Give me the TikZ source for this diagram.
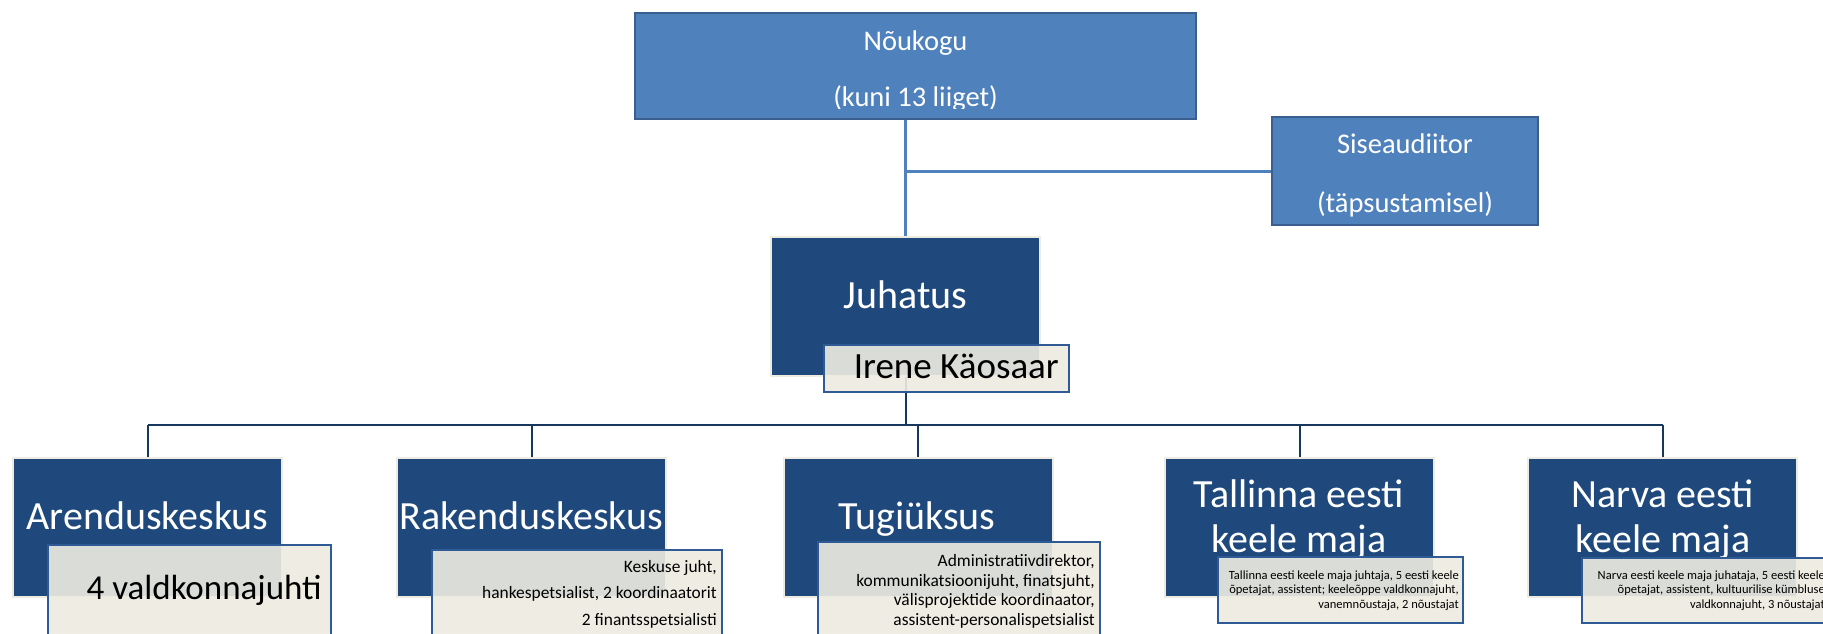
\documentclass[tikz,border=0pt]{standalone}
\usepackage{fontspec}
\setmainfont{Carlito}

\definecolor{boardblue}{HTML}{4F81BD}
\definecolor{boardedge}{HTML}{3A5F8E}
\definecolor{unitblue}{HTML}{1F497D}
\definecolor{cream}{HTML}{EEECE1}
\definecolor{staffedge}{HTML}{2E5A96}
\definecolor{busline}{HTML}{17375E}

\tikzstyle{board}=[draw=boardedge, fill=boardblue, line width=2pt, inner sep=0pt]
\tikzstyle{unit}=[draw=cream, fill=unitblue, line width=2pt, inner sep=0pt,
  minimum width=269pt, minimum height=139pt]
\tikzstyle{staff}=[draw=staffedge, fill=cream, fill opacity=0.9, line width=2pt, inner sep=0pt]
\tikzstyle{title}=[text=white, inner sep=0pt, anchor=base, align=center]
\tikzstyle{names}=[text=black, inner sep=0pt, anchor=base east, align=right]
\tikzstyle{upline}=[draw=boardblue, line width=3pt]
\tikzstyle{downline}=[draw=busline, line width=2pt]

\begin{document}
\begin{tikzpicture}[x=1pt, y=-1pt]
\useasboundingbox (0,0) rectangle (1823,633);
\clip (0,0) rectangle (1823,633);
\fill[white] (0,0) rectangle (1823,633);
%
\draw (915.5,66) node[board, minimum width=561pt, minimum height=106pt] (noukogu) {};
\draw (1405,171) node[board, minimum width=266pt, minimum height=108pt] (audit) {};
\draw (905.5,306.5) node[unit] (juhatus) {};
\draw (147.5,527.5) node[unit] (arendus) {};
\draw (531.5,527.5) node[unit] (rakendus) {};
\draw (918,527.5) node[unit] (tugi) {};
\draw (1299.5,527.5) node[unit] (tallinn) {};
\draw (1662.5,527.5) node[unit] (narva) {};
% titles (base = last line)
\begin{scope}
  \clip (635,13) rectangle (1196,108);
  \draw (915.5,106) node[title, font=\fontsize{28.5}{56}\selectfont] (noukoguT)
    {Nõukogu\\(kuni 13 liiget)};
\end{scope}
\draw (1405,212) node[title, font=\fontsize{28.5}{59}\selectfont] (auditT)
  {Siseaudiitor\\(täpsustamisel)};
\draw (905.5,308) node[title, font=\fontsize{40}{48}\selectfont] (juhatusT) {Juhatus};
\draw (147.5,529) node[title, font=\fontsize{40}{45}\selectfont] (arendusT) {Arenduskeskus};
\draw (531.5,529) node[title, font=\fontsize{40}{45}\selectfont] (rakendusT) {Rakenduskeskus};
\draw (917,529) node[title, font=\fontsize{40}{45}\selectfont] (tugiT) {Tugiüksus};
\draw (1299,552) node[title, font=\fontsize{40}{45}\selectfont] (tallinnT)
  {Tallinna eesti\\keele maja};
\draw (1663,552) node[title, font=\fontsize{40}{45}\selectfont] (narvaT)
  {Narva eesti\\keele maja};
% connectors
\draw[upline] (noukogu.south -| juhatus.north) -- (juhatus.north);
\draw[upline] (juhatus.north |- audit.west) -- (audit.west);
\coordinate (bus) at (905.5,425);
\draw[downline] (juhatus.south) -- (bus);
\draw[downline] (arendus.north |- bus) -- (narva.north |- bus);
\foreach \u in {arendus,rakendus,tugi,tallinn,narva}
  \draw[downline] (\u.north |- bus) -- (\u.north);
% staff boxes
\draw (946.5,368.5) node[staff, minimum width=245pt, minimum height=47pt] (irene) {};
\draw (189.5,597.5) node[staff, minimum width=283pt, minimum height=105pt] (arendusS) {};
\draw (577,600) node[staff, minimum width=290pt, minimum height=100pt] (rakendusS) {};
\draw (959,596) node[staff, minimum width=282pt, minimum height=108pt] (tugiS) {};
\draw (1340.5,590) node[staff, minimum width=245pt, minimum height=66pt] (tallinnS) {};
\draw (1705.5,590.5) node[staff, minimum width=247pt, minimum height=65pt] (narvaS) {};
% staff texts
\draw (1059,378) node[names, font=\fontsize{37}{44}\selectfont] (ireneT) {Irene Käosaar};
\draw (322,599) node[names, font=\fontsize{35}{42}\selectfont] (arendusN) {4 valdkonnajuhti};
\draw (717,625) node[names, font=\fontsize{17.4}{26.5}\selectfont] (rakendusN)
  {Keskuse juht,\\hankespetsialist, 2 koordinaatorit\\2 finantsspetsialisti};
\draw (1095,625) node[names, font=\fontsize{17.4}{19.5}\selectfont] (tugiN)
  {Administratiivdirektor,\\kommunikatsioonijuht, finatsjuht,\\välisprojektide koordinaator,\\assistent-personalispetsialist};
\draw (1459,608) node[names, font=\fontsize{12.5}{14.5}\selectfont] (tallinnN)
  {Tallinna eesti keele maja juhtaja, 5 eesti keele\\õpetajat, assistent; keeleõppe valdkonnajuht,\\vanemnõustaja, 2 nõustajat};
\draw (1825,608) node[names, font=\fontsize{12.5}{14.5}\selectfont] (narvaN)
  {Narva eesti keele maja juhataja, 5 eesti keele\\õpetajat, assistent, kultuurilise kümbluse\\valdkonnajuht, 3 nõustajat};
\end{tikzpicture}
\end{document}
